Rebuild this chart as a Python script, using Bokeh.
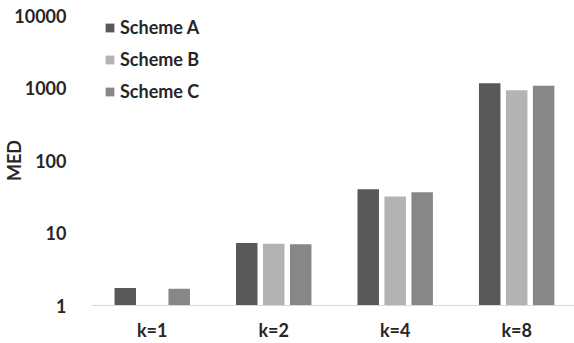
import numpy as np
from bokeh.plotting import figure
from bokeh.models import Range1d, FixedTicker, Legend, LegendItem
from bokeh.embed import file_html
from bokeh.resources import INLINE

# Mean error distance per bucket size k, for three schemes
categories = ["k=1", "k=2", "k=4", "k=8"]
scheme_a = np.array([1.75, 7.3, 40.2, 1165.0])
scheme_b = np.array([np.nan, 7.1, 31.9, 933.0])
scheme_c = np.array([1.70, 7.0, 36.5, 1072.0])
series_names = ["Scheme A", "Scheme B", "Scheme C"]
series_colors = ["#595959", "#b3b3b3", "#878787"]
y_ticks = [1, 10, 100, 1000, 10000]
y_tick_labels = ["1", "10", "100", "1000", "10000"]

FONT = "Lato"
TEXT = "#262626"
SIZE = "18px"

p = figure(
    width=574, height=343,
    y_axis_type="log",
    x_range=Range1d(-0.5, 3.476),
    y_range=Range1d(1, 10000),
    output_backend="svg",
    toolbar_location=None,
    min_border_left=81, min_border_right=0,
    min_border_top=15, min_border_bottom=38,
)

xs = np.arange(len(categories))
offsets = [-0.222, 0.0, 0.222]
bar_w = 0.177
renderers = []
for vals, off, color in zip([scheme_a, scheme_b, scheme_c], offsets, series_colors):
    r = p.vbar(x=xs + off, top=vals, bottom=1, width=bar_w,
               fill_color=color, line_color=None)
    renderers.append(r)

legend = Legend(
    items=[LegendItem(label=n, renderers=[r]) for n, r in zip(series_names, renderers)],
    location=(13, 203),
    orientation="vertical",
    glyph_width=11, glyph_height=11,
    label_standoff=5, spacing=10, label_height=20,
    padding=0, margin=0,
    border_line_color=None, background_fill_alpha=0,
    label_text_font=FONT, label_text_font_style="bold",
    label_text_font_size=SIZE, label_text_color=TEXT,
)
p.add_layout(legend)

# x axis
p.xaxis.ticker = FixedTicker(ticks=list(xs))
p.xaxis.major_label_overrides = {int(i): c for i, c in zip(xs, categories)}
p.xaxis.axis_line_color = "#d9d9d9"
p.xaxis.major_tick_line_color = None
p.xaxis.minor_tick_line_color = None
p.xaxis.major_label_standoff = 7
p.xaxis.major_label_text_font = FONT
p.xaxis.major_label_text_font_style = "bold"
p.xaxis.major_label_text_font_size = SIZE
p.xaxis.major_label_text_color = TEXT

# y axis
p.yaxis.ticker = FixedTicker(ticks=y_ticks, minor_ticks=[])
p.yaxis.major_label_overrides = dict(zip(y_ticks, y_tick_labels))
p.yaxis.axis_line_color = None
p.yaxis.major_tick_line_color = None
p.yaxis.minor_tick_line_color = None
p.yaxis.major_label_standoff = 19
p.yaxis.major_label_text_font = FONT
p.yaxis.major_label_text_font_style = "bold"
p.yaxis.major_label_text_font_size = SIZE
p.yaxis.major_label_text_color = TEXT
p.yaxis.axis_label = "MED"
p.yaxis.axis_label_standoff = -14
p.yaxis.axis_label_text_font = FONT
p.yaxis.axis_label_text_font_style = "bold"
p.yaxis.axis_label_text_font_size = SIZE
p.yaxis.axis_label_text_color = TEXT

p.xgrid.grid_line_color = None
p.ygrid.grid_line_color = None
p.outline_line_color = None
p.background_fill_color = "white"
p.border_fill_color = "white"

open("out.html", "w").write(file_html(p, INLINE))
